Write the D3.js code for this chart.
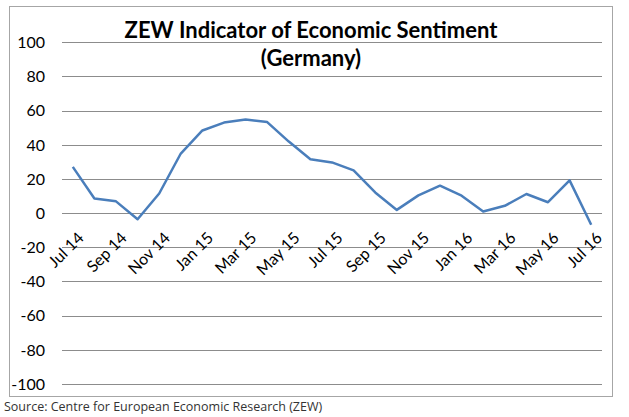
<!DOCTYPE html>
<html lang="en">
<head>
<meta charset="utf-8">
<title>ZEW Indicator of Economic Sentiment</title>
<script src="https://d3js.org/d3.v7.min.js"></script>
<style>
  body { margin: 0; background: #fff; }
  text { font-family: Lato, "Open Sans", sans-serif; }
</style>
</head>
<body>
<script>
var width = 629;
var height = 417;

var months = ["Jul 14","Aug 14","Sep 14","Oct 14","Nov 14","Dec 14",
  "Jan 15","Feb 15","Mar 15","Apr 15","May 15","Jun 15",
  "Jul 15","Aug 15","Sep 15","Oct 15","Nov 15","Dec 15",
  "Jan 16","Feb 16","Mar 16","Apr 16","May 16","Jun 16","Jul 16"];
var sentiment = [27.1, 8.6, 6.9, -3.6, 11.5, 34.9,
  48.4, 53.0, 54.8, 53.3, 41.9, 31.5,
  29.7, 25.0, 12.1, 1.9, 10.4, 16.1,
  10.2, 1.0, 4.3, 11.2, 6.4, 19.2, -6.8];
var yTicks = [100, 80, 60, 40, 20, 0, -20, -40, -60, -80, -100];

var svg = d3.select("body").append("svg")
  .attr("width", width)
  .attr("height", height);

// outer frame
svg.append("rect")
  .attr("x", 9.5).attr("y", 6.5)
  .attr("width", 603).attr("height", 390)
  .attr("fill", "#fff")
  .attr("stroke", "#a6a6a6");

var x = d3.scaleBand().domain(months).range([62, 602]);
var y = d3.scaleLinear().domain([-100, 100]).range([384, 42.3]);

// gridlines
svg.append("g").selectAll("line")
  .data(yTicks).enter().append("line")
  .attr("x1", 62).attr("x2", 602)
  .attr("y1", function(d) { return Math.round(y(d)) + 0.5; })
  .attr("y2", function(d) { return Math.round(y(d)) + 0.5; })
  .attr("stroke", "#8c8c8c")
  .attr("stroke-width", 1);

// y labels
svg.append("g").selectAll("text")
  .data(yTicks).enter().append("text")
  .attr("x", 45)
  .attr("y", function(d) { return y(d); })
  .attr("dy", "0.36em")
  .attr("text-anchor", "end")
  .attr("font-size", 16)
  .attr("fill", "#000")
  .text(function(d) { return d; });

// x labels, every second month
svg.append("g").selectAll("text")
  .data(months.filter(function(d, i) { return i % 2 === 0; }))
  .enter().append("text")
  .attr("transform", function(d) {
    return "translate(" + (x(d) + x.bandwidth() / 2 + 4) + ",231) rotate(-45)";
  })
  .attr("dy", "0.7em")
  .attr("text-anchor", "end")
  .attr("font-size", 16)
  .attr("fill", "#000")
  .text(function(d) { return d; });

// the series
var line = d3.line()
  .x(function(d, i) { return x(months[i]) + x.bandwidth() / 2; })
  .y(function(d) { return y(d); });

svg.append("path")
  .datum(sentiment)
  .attr("d", line)
  .attr("fill", "none")
  .attr("stroke", "#4a7ebb")
  .attr("stroke-width", 2.5)
  .attr("stroke-linejoin", "round");

// title
var title = svg.append("text")
  .attr("text-anchor", "middle")
  .attr("font-size", 22)
  .attr("font-weight", "bold")
  .attr("fill", "#000");
title.append("tspan").attr("x", 311).attr("y", 38).text("ZEW Indicator of Economic Sentiment");
title.append("tspan").attr("x", 311).attr("y", 66).text("(Germany)");

// source
svg.append("text")
  .attr("x", 4).attr("y", 411)
  .attr("font-size", 12.5)
  .attr("fill", "#333")
  .style("font-family", "'Open Sans', sans-serif")
  .text("Source: Centre for European Economic Research (ZEW)");
</script>
</body>
</html>
